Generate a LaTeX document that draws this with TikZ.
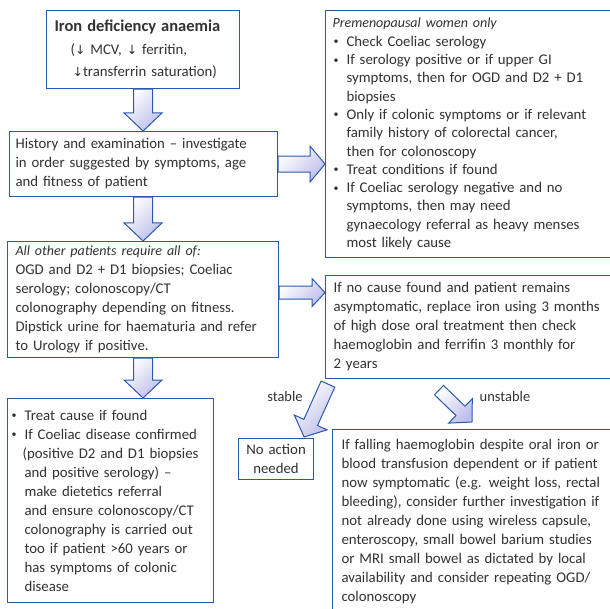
\documentclass[tikz,border=0pt]{standalone}
\usepackage{fontspec}
\setmainfont{Carlito}
\newfontfamily\symfont{DejaVu Sans}
\usetikzlibrary{calc}
\definecolor{bblue}{RGB}{40,90,175}
\definecolor{lav}{RGB}{190,190,235}
\definecolor{txt}{RGB}{50,50,50}
\newcommand{\bul}{\makebox[14pt][l]{\hspace*{1pt}\raisebox{1.5pt}{\fontsize{10pt}{10pt}\selectfont\textbullet}}}
\newcommand{\ind}{\hspace*{14pt}}
\newcommand{\dn}{{\symfont\fontsize{12.5}{12}\selectfont ↓}}
\newcommand{\blockarrow}[6]{%
  \coordinate (#6h) at ($(#2)!#5!(#1)$);
  \draw[arrowsty] ($(#1)!#3!90:(#2)$) -- ($(#6h)!#3!-90:(#1)$) -- ($(#6h)!#4!-90:(#1)$) -- (#2)
     -- ($(#6h)!#4!90:(#1)$) -- ($(#6h)!#3!90:(#1)$) -- ($(#1)!#3!-90:(#2)$) -- cycle;
}
\tikzset{
  box/.style={draw=bblue, line width=1.1pt, fill=white, text=txt, inner ysep=0pt,
    align=left, font=\fontsize{14.8pt}{19pt}\selectfont, anchor=north west},
  arrowsty/.style={draw=bblue, line width=1pt, line join=miter, top color=white, bottom color=lav, shading angle=45},
  lbl/.style={text=txt, font=\fontsize{14.5pt}{18pt}\selectfont, inner sep=0pt}
}
\begin{document}
\begin{tikzpicture}[x=1pt, y=-1pt]
\useasboundingbox (0,0) rectangle (610,609);
\clip (0,0) rectangle (610,609);

\node[box, inner xsep=8pt, text width=177pt, minimum height=78pt,
  font=\fontsize{14.8pt}{22.5pt}\selectfont] (b1) at (46,10)
  {{\bfseries\fontsize{16.5pt}{22.5pt}\selectfont Iron deficiency anaemia}\\
   \hspace*{16pt}(\dn\ MCV, \dn\ ferritin,\\
   \hspace*{18pt}\dn transferrin saturation)};

\node[box, inner xsep=6pt, text width=256pt, minimum height=65pt] (b2) at (9,131)
  {History and examination -- investigate\\
   in order suggested by symptoms, age\\
   and fitness of patient};

\node[box, inner xsep=7pt, text width=286pt, minimum height=247pt,
  font=\fontsize{14.8pt}{18.3pt}\selectfont] (b3) at (325,10)
  {{\itshape\fontsize{14pt}{18.3pt}\selectfont Premenopausal women only}\\
   \bul Check Coeliac serology\\
   \bul If serology positive or if upper GI\\
   \ind symptoms, then for OGD and D2 + D1\\
   \ind biopsies\\
   \bul Only if colonic symptoms or if relevant\\
   \ind family history of colorectal cancer,\\
   \ind then for colonoscopy\\
   \bul Treat conditions if found\\
   \bul If Coeliac serology negative and no\\
   \ind symptoms, then may need\\
   \ind gynaecology referral as heavy menses\\
   \ind most likely cause};

\node[box, inner xsep=8pt, text width=255pt, minimum height=116pt] (b4) at (7,241)
  {{\itshape\fontsize{14pt}{19pt}\selectfont All other patients require all of:}\\
   OGD and D2 + D1 biopsies; Coeliac\\
   serology; colonoscopy/CT\\
   colonography depending on fitness.\\
   Dipstick urine for haematuria and refer\\
   to Urology if positive.};

\node[box, inner xsep=8pt, text width=284pt, minimum height=103pt] (b5) at (325,275)
  {If no cause found and patient remains\\
   asymptomatic, replace iron using 3 months\\
   of high dose oral treatment then check\\
   haemoglobin and ferrifin 3 monthly for\\
   2 years};

\node[box, inner xsep=3pt, text width=200pt, minimum height=204pt] (b6) at (7,398)
  {\bul Treat cause if found\\
   \bul If Coeliac disease confirmed\\
   \hspace*{12pt}(positive D2 and D1 biopsies\\
   \ind and positive serology) --\\
   \ind make dietetics referral\\
   \ind and ensure colonoscopy/CT\\
   \ind colonography is carried out\\
   \ind too if patient >60 years or\\
   \ind has symptoms of colonic\\
   \ind disease};

\node[box, align=center, inner xsep=2pt, text width=71pt, minimum height=41pt] (b7) at (238,438)
  {No action\\needed};

\node[box, inner xsep=9pt, text width=272pt, minimum height=184pt] (b8) at (332,429)
  {If falling haemoglobin despite oral iron or\\
   blood transfusion dependent or if patient\\
   now symptomatic (e.g. weight loss, rectal\\
   bleeding), consider further investigation if\\
   not already done using wireless capsule,\\
   enteroscopy, small bowel barium studies\\
   or MRI small bowel as dictated by local\\
   availability and consider repeating OGD/\\
   colonoscopy};

% block arrows
\coordinate (a1s) at (b1.south);
\coordinate (a1e) at (b1.south |- b2.north);
\blockarrow{a1s}{a1e}{9.5pt}{19pt}{18pt}{a1}

\coordinate (a2s) at (b2.east);
\coordinate (a2e) at (b3.west |- b2.east);
\blockarrow{a2s}{a2e}{8pt}{18pt}{15pt}{a2}

\coordinate (a3s) at (b1.south |- b2.south);
\coordinate (a3e) at (b1.south |- b4.north);
\blockarrow{a3s}{a3e}{9.5pt}{19pt}{18pt}{a3}

\coordinate (a4s) at ($(b4.east)+(0,-7)$);
\coordinate (a4e) at (b5.west |- a4s);
\blockarrow{a4s}{a4e}{6.5pt}{14pt}{13pt}{a4}

\coordinate (a5s) at (b1.south |- b4.south);
\coordinate (a5e) at (b1.south |- b6.north);
\blockarrow{a5s}{a5e}{9.5pt}{19pt}{18pt}{a5}

\coordinate (a6s) at ($(b5.south west)+(3,5)$);
\coordinate (a6e) at ($(b7.north east)+(-10,-1)$);
\blockarrow{a6s}{a6e}{7.5pt}{18pt}{16pt}{a6}

\coordinate (a7s) at ($(b5.south west)+(114,11)$);
\coordinate (a7e) at ($(b8.north west)+(140,-7)$);
\blockarrow{a7s}{a7e}{6.5pt}{17pt}{16pt}{a7}

\node[lbl] (lstable) at (285,397) {stable};
\node[lbl] (lunstable) at (505,397) {unstable};
\end{tikzpicture}
\end{document}
